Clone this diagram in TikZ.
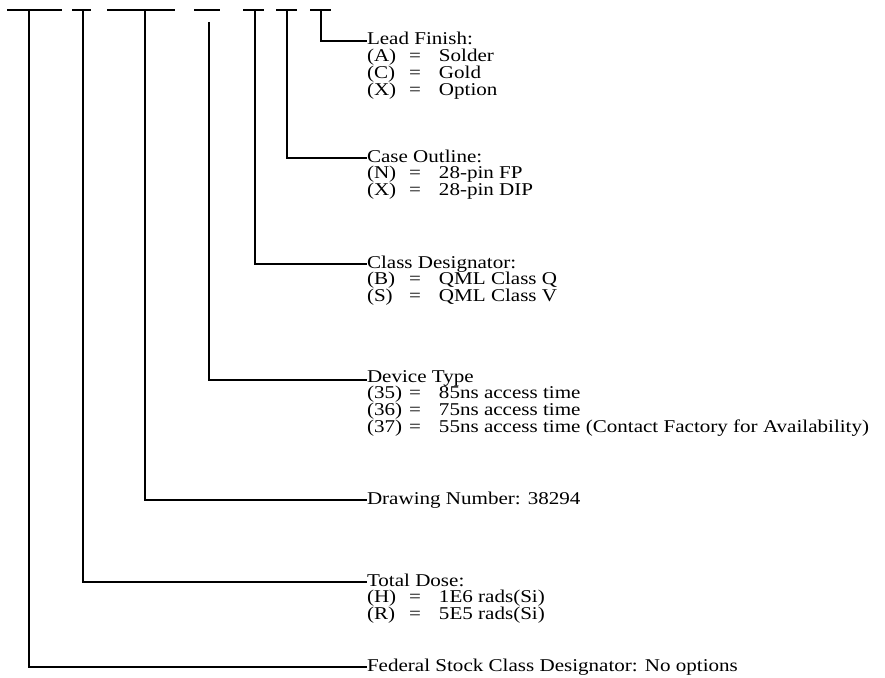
\documentclass[tikz,border=0pt]{standalone}
\usepackage{fontspec}
\setmainfont{Liberation Serif}[FakeStretch=1.17]
\newcommand{\optlines}[1]{\vtop{\baselineskip=16.7pt\lineskiplimit=-100pt\lineskip=0pt #1}}
\newcommand{\ohead}[1]{\hbox{#1}}
\newcommand{\orow}[3]{\hbox{\makebox[42pt][l]{#1}\makebox[30pt][l]{#2}#3}}
\begin{document}
\begin{tikzpicture}[x=1pt,y=-1pt,
  rule/.style={line width=1.6pt, line cap=butt},
  conn/.style={line width=1.6pt, line join=miter},
  lbl/.style={anchor=base west, inner sep=0pt, outer sep=0pt, font=\fontsize{18}{16.7}\selectfont}]
\useasboundingbox (0,0) rectangle (885,677);
% code placeholder dashes
\draw[rule] (7,10) -- (62,10);
\draw[rule] (72,10) -- (91,10);
\draw[rule] (107,10) -- (175,10);
\draw[rule] (194,10) -- (220,10);
\draw[rule] (243,10) -- (264,10);
\draw[rule] (276,10) -- (297,10);
\draw[rule] (310,10) -- (331,10);
\coordinate (t1) at (29,10);
\coordinate (t2) at (83,10);
\coordinate (t3) at (145,10);
\coordinate (t4) at (209,22);
\coordinate (t5) at (255,10);
\coordinate (t6) at (287,10);
\coordinate (t7) at (321,10);
% text blocks
\node[lbl] (lead) at (367,45) {\optlines{\ohead{Lead Finish:}\orow{(A)}{=}{Solder}\orow{(C)}{=}{Gold}\orow{(X)}{=}{Option}}};
\node[lbl] (case) at (367,162) {\optlines{\ohead{Case Outline:}\orow{(N)}{=}{28-pin FP}\orow{(X)}{=}{28-pin DIP}}};
\node[lbl] (class) at (367,268) {\optlines{\ohead{Class Designator:}\orow{(B)}{=}{QML Class Q}\orow{(S)}{=}{QML Class V}}};
\node[lbl] (dev) at (367,382) {\optlines{\ohead{Device Type}\orow{(35)}{=}{85ns access time}\orow{(36)}{=}{75ns access time}\orow{(37)}{=}{55ns access time (Contact Factory for Availability)}}};
\node[lbl] (drw) at (367,504) {Drawing Number: 38294};
\node[lbl] (dose) at (367,586) {\optlines{\ohead{Total Dose:}\orow{(H)}{=}{1E6 rads(Si)}\orow{(R)}{=}{5E5 rads(Si)}}};
\node[lbl] (fed) at (367,671) {Federal Stock Class Designator: No options};
% connectors
\draw[conn] (t7) |- ([yshift=4pt]lead.base west);
\draw[conn] (t6) |- ([yshift=4pt]case.base west);
\draw[conn] (t5) |- ([yshift=4pt]class.base west);
\draw[conn] (t4) |- ([yshift=2pt]dev.base west);
\draw[conn] (t3) |- ([yshift=4pt]drw.base west);
\draw[conn] (t2) |- ([yshift=4pt]dose.base west);
\draw[conn] (t1) |- ([yshift=4pt]fed.base west);
\end{tikzpicture}
\end{document}
